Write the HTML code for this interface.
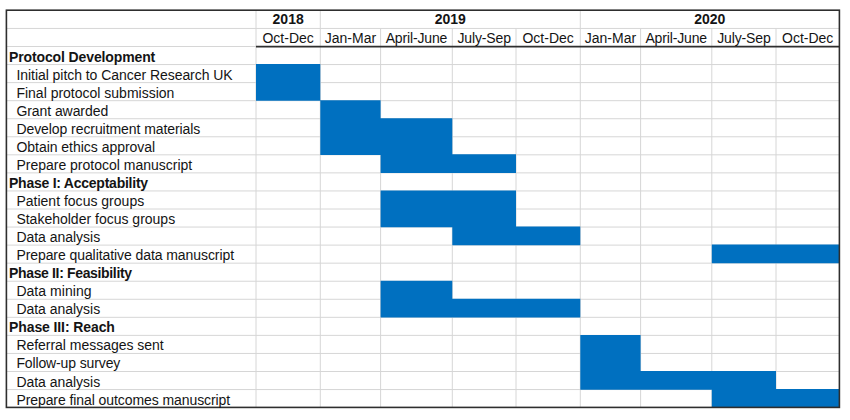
<!DOCTYPE html><html><head><meta charset="utf-8"><style>
html,body{margin:0;padding:0;background:#fff;width:850px;height:420px;overflow:hidden;position:relative}
svg{position:absolute;left:0;top:0}
.t{position:absolute;font-family:"Liberation Sans",Arial,sans-serif;font-size:14px;line-height:16px;color:#141414;white-space:nowrap}
.b{font-weight:bold}
.c{text-align:center}
</style></head><body>
<svg width="850" height="420" viewBox="0 0 850 420">
<path d="M6.4 28.45H839.4M6.4 46.51H839.4M6.4 64.56H839.4M6.4 82.62H839.4M6.4 100.68H839.4M6.4 118.73H839.4M6.4 136.78H839.4M6.4 154.84H839.4M6.4 172.89H839.4M6.4 190.95H839.4M6.4 209H839.4M6.4 227.06H839.4M6.4 245.11H839.4M6.4 263.17H839.4M6.4 281.22H839.4M6.4 299.28H839.4M6.4 317.33H839.4M6.4 335.39H839.4M6.4 353.44H839.4M6.4 371.5H839.4M6.4 389.55H839.4M256 10.2V407.41M320.3 10.2V407.41M380.6 28.25V407.41M452.3 28.25V407.41M516 28.25V407.41M580.3 10.2V407.41M640.6 28.25V407.41M711.8 28.25V407.41M776 28.25V407.41" stroke="#d6d6d6" stroke-width="1" fill="none"/>
<path d="M256 64.06H320.3V82.72H256ZM256 82.12H320.3V100.78H256ZM320.3 100.18H380.6V118.83H320.3ZM320.3 118.23H452.3V136.88H320.3ZM320.3 136.28H452.3V154.94H320.3ZM380.6 154.34H516V173H380.6ZM380.6 190.45H516V209.1H380.6ZM380.6 208.5H516V227.16H380.6ZM452.3 226.56H580.3V245.22H452.3ZM711.8 244.61H839.4V263.27H711.8ZM380.6 280.72H452.3V299.38H380.6ZM380.6 298.78H580.3V317.44H380.6ZM580.3 334.89H640.6V353.55H580.3ZM580.3 352.94H640.6V371.6H580.3ZM580.3 371H776V389.65H580.3ZM711.8 389.05H839.4V407.71H711.8Z" fill="#0070c0"/>
<path d="M256 46.61H839.4" stroke="#2e2e2e" stroke-width="1.6" fill="none"/>
<rect x="6.4" y="10.2" width="833" height="397.21" stroke="#2e2e2e" stroke-width="1.6" fill="none"/>
</svg>
<div class="t b c" style="left:256px;width:64.3px;top:11.25px">2018</div>
<div class="t b c" style="left:320.3px;width:260px;top:11.25px">2019</div>
<div class="t b c" style="left:580.3px;width:259.1px;top:11.25px">2020</div>
<div class="t c" style="left:256px;width:64.3px;top:30.45px">Oct-Dec</div>
<div class="t c" style="left:320.3px;width:60.3px;top:30.45px">Jan-Mar</div>
<div class="t c" style="left:380.6px;width:71.7px;top:30.45px;letter-spacing:-0.15px">April-June</div>
<div class="t c" style="left:452.3px;width:63.7px;top:30.45px;letter-spacing:-0.12px">July-Sep</div>
<div class="t c" style="left:516px;width:64.3px;top:30.45px">Oct-Dec</div>
<div class="t c" style="left:580.3px;width:60.3px;top:30.45px">Jan-Mar</div>
<div class="t c" style="left:640.6px;width:71.2px;top:30.45px;letter-spacing:-0.15px">April-June</div>
<div class="t c" style="left:711.8px;width:64.2px;top:30.45px;letter-spacing:-0.12px">July-Sep</div>
<div class="t c" style="left:776px;width:63.4px;top:30.45px">Oct-Dec</div>
<div class="t b" style="left:9px;top:48.51px;letter-spacing:-0.121px">Protocol Development</div>
<div class="t" style="left:16.4px;top:66.57px;letter-spacing:-0.047px">Initial pitch to Cancer Research UK</div>
<div class="t" style="left:16.4px;top:84.62px">Final protocol submission</div>
<div class="t" style="left:16.4px;top:102.68px;letter-spacing:-0.067px">Grant awarded</div>
<div class="t" style="left:16.4px;top:120.73px;letter-spacing:-0.071px">Develop recruitment materials</div>
<div class="t" style="left:16.4px;top:138.79px;letter-spacing:-0.024px">Obtain ethics approval</div>
<div class="t" style="left:16.4px;top:156.84px">Prepare protocol manuscript</div>
<div class="t b" style="left:9px;top:174.9px;letter-spacing:-0.243px">Phase I: Acceptability</div>
<div class="t" style="left:16.4px;top:192.95px;letter-spacing:0.008px">Patient focus groups</div>
<div class="t" style="left:16.4px;top:211.01px">Stakeholder focus groups</div>
<div class="t" style="left:16.4px;top:229.06px;letter-spacing:-0.025px">Data analysis</div>
<div class="t" style="left:16.4px;top:247.12px;letter-spacing:-0.076px">Prepare qualitative data manuscript</div>
<div class="t b" style="left:9px;top:265.17px;letter-spacing:-0.345px">Phase II: Feasibility</div>
<div class="t" style="left:16.4px;top:283.23px;letter-spacing:0.040px">Data mining</div>
<div class="t" style="left:16.4px;top:301.28px;letter-spacing:-0.025px">Data analysis</div>
<div class="t b" style="left:9px;top:319.34px;letter-spacing:-0.100px">Phase III: Reach</div>
<div class="t" style="left:16.4px;top:337.39px;letter-spacing:-0.029px">Referral messages sent</div>
<div class="t" style="left:16.4px;top:355.45px;letter-spacing:-0.127px">Follow-up survey</div>
<div class="t" style="left:16.4px;top:373.5px;letter-spacing:-0.025px">Data analysis</div>
<div class="t" style="left:16.4px;top:391.56px;letter-spacing:-0.078px">Prepare final outcomes manuscript</div>
</body></html>
